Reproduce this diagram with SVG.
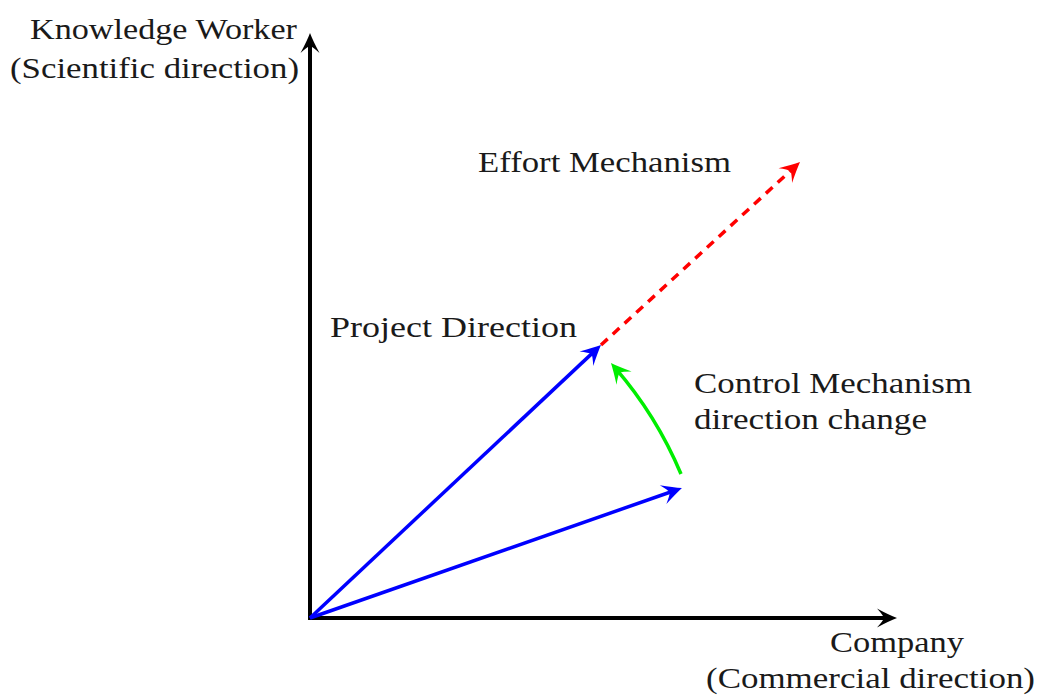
<svg xmlns="http://www.w3.org/2000/svg" width="1039" height="698" viewBox="0 0 1039 698">
  <style>
    .lbl { font-family: "Liberation Serif", "DejaVu Serif", serif; font-size: 29px; fill: #1a1a1a; }
    .axis { stroke: #000; stroke-width: 4; fill: none; }
    .vec { stroke-width: 3.5; fill: none; }
  </style>
  <defs>
    <marker id="ahK" markerUnits="userSpaceOnUse" refX="-6" refY="0" orient="auto" overflow="visible" markerWidth="30" markerHeight="30">
      <path d="M0,0 Q-8,-3 -20,-9.5 Q-14,-3 -13,0 Q-14,3 -20,9.5 Q-8,3 0,0 Z" fill="#000"/>
    </marker>
    <marker id="ahB" markerUnits="userSpaceOnUse" refX="-6" refY="0" orient="auto" overflow="visible" markerWidth="30" markerHeight="30">
      <path d="M0,0 Q-8,-3.5 -20,-10 Q-14,-3 -13,0 Q-14,3 -20,10 Q-8,3.5 0,0 Z" fill="#0000ff"/>
    </marker>
    <marker id="ahR" markerUnits="userSpaceOnUse" refX="-6" refY="0" orient="auto" overflow="visible" markerWidth="30" markerHeight="30">
      <path d="M0,0 Q-8,-3.5 -20,-10 Q-14,-3 -13,0 Q-14,3 -20,10 Q-8,3.5 0,0 Z" fill="#ff0000"/>
    </marker>
    <marker id="ahG" markerUnits="userSpaceOnUse" refX="-6" refY="0" orient="auto" overflow="visible" markerWidth="30" markerHeight="30">
      <path d="M0,0 Q-8,-3.5 -20,-10 Q-14,-3 -13,0 Q-14,3 -20,10 Q-8,3.5 0,0 Z" fill="#00ee00"/>
    </marker>
  </defs>

  <g id="connectors">
    <line id="axis-y" class="axis" x1="310" y1="620" x2="310" y2="39" marker-end="url(#ahK)"/>
    <line id="axis-x" class="axis" x1="308" y1="618" x2="891" y2="618" marker-end="url(#ahK)"/>
    <line id="project-direction" class="vec" stroke="#0000ff" x1="310" y1="618" x2="596.6" y2="349.1" marker-end="url(#ahB)"/>
    <line id="initial-direction" class="vec" stroke="#0000ff" x1="310" y1="618" x2="676.3" y2="490" marker-end="url(#ahB)"/>
    <line id="effort-mechanism" class="vec" stroke="#ff0000" stroke-dasharray="9 7" x1="601" y1="345" x2="795.6" y2="166.1" marker-end="url(#ahR)"/>
    <path id="control-arc" class="vec" stroke="#00ee00" d="M681,474 A396,396 0 0 0 614.9,367.6" marker-end="url(#ahG)"/>
  </g>

  <g id="label-knowledge-worker">
    <text class="lbl" x="30" y="39" textLength="267" lengthAdjust="spacingAndGlyphs">Knowledge Worker</text>
    <text class="lbl" x="10" y="78" textLength="289" lengthAdjust="spacingAndGlyphs">(Scientific direction)</text>
  </g>
  <g id="label-effort">
    <text class="lbl" x="478" y="172" textLength="253" lengthAdjust="spacingAndGlyphs">Effort Mechanism</text>
  </g>
  <g id="label-project">
    <text class="lbl" x="330" y="337" textLength="247" lengthAdjust="spacingAndGlyphs">Project Direction</text>
  </g>
  <g id="label-control">
    <text class="lbl" x="694" y="393" textLength="278" lengthAdjust="spacingAndGlyphs">Control Mechanism</text>
    <text class="lbl" x="694" y="429" textLength="233" lengthAdjust="spacingAndGlyphs">direction change</text>
  </g>
  <g id="label-company">
    <text class="lbl" x="830" y="652" textLength="134" lengthAdjust="spacingAndGlyphs">Company</text>
    <text class="lbl" x="706" y="688" textLength="329" lengthAdjust="spacingAndGlyphs">(Commercial direction)</text>
  </g>
</svg>
